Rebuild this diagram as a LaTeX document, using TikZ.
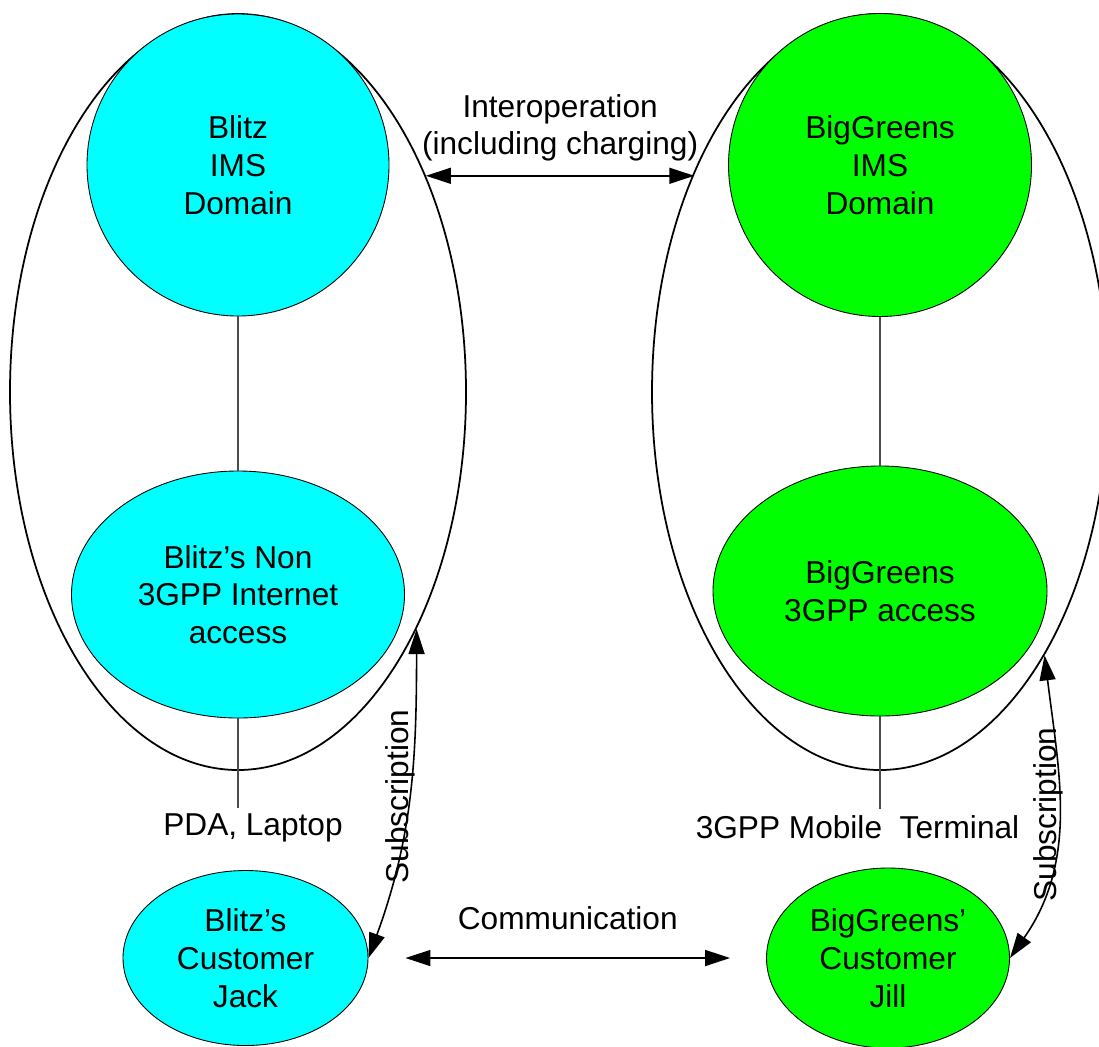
\documentclass[tikz,border=0pt]{standalone}
\usepackage{fontspec}
\setmainfont{Liberation Sans}
\usepackage{tikz}
\usepackage{xcolor}
\definecolor{tcyan}{RGB}{0,255,255}
\definecolor{tgreen}{RGB}{0,255,0}
\usetikzlibrary{shapes.geometric}
\usetikzlibrary{arrows.meta}

\begin{document}
\begin{tikzpicture}[font=\fontsize{18}{21.5}\selectfont]
\tikzstyle{areaOval} = [
  shape=ellipse,
  minimum width=9.12cm,
  minimum height=15.12cm,
  inner sep=0pt,
  draw=black,
  line width=1pt
]
\tikzstyle{nodeCyan} = [
  shape=ellipse,
  inner sep=0pt,
  align=center,
  draw=black,
  line width=0.5pt,
  fill=tcyan
]
\tikzstyle{nodeGreen} = [nodeCyan, fill=tgreen]
\tikzstyle{tedge} = [
  draw=black!70,
  line width=0.6pt
]
\tikzstyle{tarrow} = [
  draw=black,
  line width=0.9pt,
  >={Triangle[length=0.5cm,width=0.32cm]},
  <->
]
\tikzstyle{tlabel} = [
  align=center,
  inner sep=0pt
]

\useasboundingbox (0,0) rectangle (21.98,-20.92);

\node[areaOval] (blitzArea) at (4.76,-7.84) {};
\node[areaOval] (greenArea) at (17.60,-7.84) {};

\node[nodeCyan, minimum width=6.04cm, minimum height=6.04cm] (blitzIms) at (4.76,-3.30) {Blitz\\IMS\\Domain};
\node[nodeGreen, minimum width=6.06cm, minimum height=6.06cm] (greenIms) at (17.60,-3.30) {BigGreens\\IMS\\Domain};

\node[nodeCyan, minimum width=6.66cm, minimum height=4.94cm] (blitzAccess) at (4.76,-11.89) {Blitz's Non\\3GPP Internet\\access};
\node[nodeGreen, minimum width=6.68cm, minimum height=5.0cm] (greenAccess) at (17.60,-11.82) {BigGreens\\3GPP access};

\node (pdaLabel) at (5.06,-16.56) {PDA, Laptop};
\node (mobileLabel) at (17.15,-16.54) {3GPP Mobile\ \ Terminal};

\node[nodeCyan, minimum width=4.9cm, minimum height=3.5cm] (jack) at (4.91,-19.16) {Blitz's\\Customer\\Jack};
\node[nodeGreen, minimum width=4.86cm, minimum height=3.6cm] (jill) at (17.76,-19.16) {BigGreens'\\Customer\\Jill};

\draw[tedge] (blitzIms) -- (blitzAccess) -- (blitzAccess |- pdaLabel.north);
\draw[tedge] (greenIms) -- (greenAccess) -- (greenAccess |- mobileLabel.north);

% horizontal links between the two domains and the two customers
\draw[tarrow] (blitzArea.49.5) -- node[tlabel, midway, yshift=0.96cm] {Interoperation\\(including charging)} (blitzArea.49.5 -| greenArea.130.5);
\draw[tarrow] ([xshift=0.74cm]jack.east) -- node[tlabel, midway, yshift=0.8cm] {Communication} ([xshift=-0.72cm]jill.west);

\draw[tarrow] (blitzArea.-53.7) to[out=-90, in=70] node[tlabel, pos=0.5, xshift=-0.18cm, rotate=90] {Subscription} (jack.east);
\draw[tarrow] (greenArea.-58.5) to[out=-83, in=55] node[tlabel, pos=0.5, xshift=-0.2cm, rotate=90] {Subscription} (jill.east);

\end{tikzpicture}
\end{document}
